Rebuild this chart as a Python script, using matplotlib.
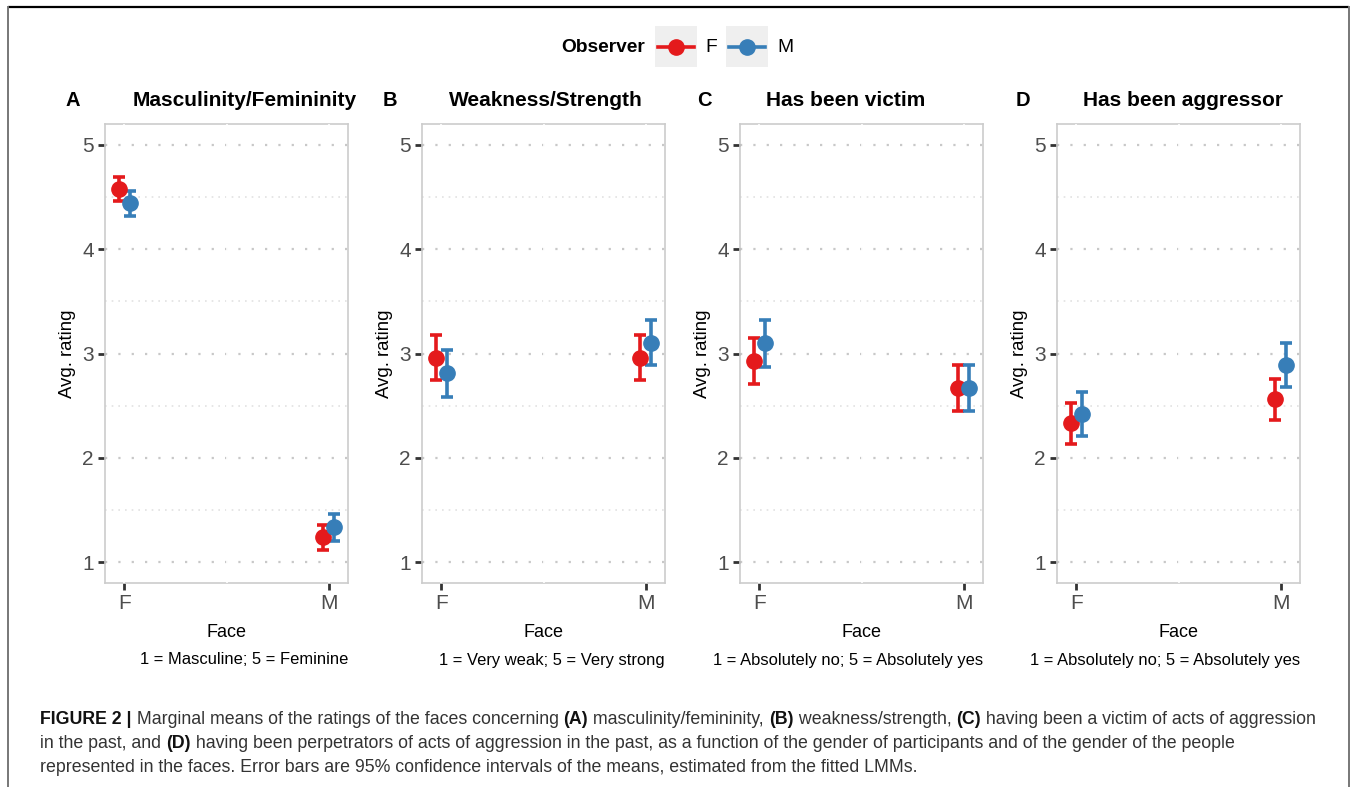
import matplotlib
matplotlib.use("Agg")
import matplotlib.pyplot as plt
from matplotlib.patches import Rectangle
from matplotlib.lines import Line2D

plt.rcParams['font.family'] = ['Liberation Sans', 'DejaVu Sans']

# Face shown and observer gender
faces = ['F', 'M']
observers = ['F', 'M']
colors = {'F': '#E41A1C', 'M': '#377EB8'}

tags = ['A', 'B', 'C', 'D']
titles = ['Masculinity/Femininity', 'Weakness/Strength', 'Has been victim', 'Has been aggressor']
scales = ['1 = Masculine; 5 = Feminine', '1 = Very weak; 5 = Very strong',
          '1 = Absolutely no; 5 = Absolutely yes', '1 = Absolutely no; 5 = Absolutely yes']

# marginal means and 95% CI per panel, per observer, over faces F and M
mean_obs_f = [[4.58, 1.24], [2.96, 2.96], [2.93, 2.67], [2.33, 2.56]]
low_obs_f = [[4.46, 1.115], [2.75, 2.75], [2.71, 2.45], [2.13, 2.36]]
high_obs_f = [[4.69, 1.36], [3.18, 3.18], [3.15, 2.89], [2.53, 2.76]]

mean_obs_m = [[4.44, 1.335], [2.81, 3.10], [3.10, 2.67], [2.42, 2.89]]
low_obs_m = [[4.32, 1.20], [2.58, 2.89], [2.87, 2.45], [2.21, 2.68]]
high_obs_m = [[4.56, 1.46], [3.03, 3.32], [3.32, 2.89], [2.63, 3.10]]

W, H = 1357, 787
fig = plt.figure(figsize=(W / 100, H / 100), dpi=100)

# overlay in pixel units for frame, legend and captions
ov = fig.add_axes([0, 0, 1, 1], zorder=10)
ov.set_xlim(0, W)
ov.set_ylim(H, 0)
ov.axis('off')
ov.patch.set_alpha(0)

panel_left = [105, 422, 740, 1057]
panel_w = 243
panel_top, panel_bot = 124, 583
dodge = 0.026

for i in range(4):
    ax = fig.add_axes([panel_left[i] / W, (H - panel_bot) / H, panel_w / W,
                       (panel_bot - panel_top) / H])
    xs = [1, 2]
    series = [('F', mean_obs_f[i], low_obs_f[i], high_obs_f[i], -dodge),
              ('M', mean_obs_m[i], low_obs_m[i], high_obs_m[i], dodge)]
    for obs, m, lo, hi, off in series:
        x = [v + off for v in xs]
        yerr = [[m[k] - lo[k] for k in range(2)], [hi[k] - m[k] for k in range(2)]]
        ax.errorbar(x, m, yerr=yerr, fmt='o', color=colors[obs], ms=11,
                    elinewidth=2.6, capsize=4, capthick=2.6, zorder=5)
    ax.set_xlim(1 - 0.095, 2 + 0.095)
    ax.set_ylim(0.8, 5.2)
    ax.set_xticks(xs)
    ax.set_xticklabels(faces)
    ax.set_yticks([1, 2, 3, 4, 5])
    ax.set_yticks([1.5, 2.5, 3.5, 4.5], minor=True)
    ax.tick_params(axis='y', which='minor', length=0)
    ax.tick_params(which='major', length=5, width=2, color='#333333',
                   labelsize=15, labelcolor='#4d4d4d', pad=3)
    ax.grid(True, which='major', axis='y', color='#c8c8c8', lw=1.6, ls=(0, (1, 5)))
    ax.grid(True, which='minor', axis='y', color='#e2e2e2', lw=1.2, ls=(0, (1, 3)))
    for xv in [1, 1.5, 2]:
        ax.axvline(xv, color='white', lw=1.2, zorder=3)
    for sp in ax.spines.values():
        sp.set_color('#cccccc')
        sp.set_linewidth(1.2)
    ax.set_axisbelow(True)
    ax.set_ylabel('Avg. rating', fontsize=13.4, color='black')
    ax.yaxis.set_label_coords(-0.12, 0.5)
    ax.set_xlabel('Face', fontsize=13, color='black', labelpad=8)

    # panel tag and title
    tag_x = [73, 390, 704, 1023][i]
    title_x = [245, 546, 846, 1183][i]
    ov.text(tag_x, 101, tags[i], fontsize=14.5, fontweight='bold', ha='center', va='center')
    ov.text(title_x, 101, titles[i], fontsize=15, fontweight='bold', ha='center', va='center')
    ov.text(panel_left[i] + panel_w, 660, scales[i], fontsize=11.9, ha='right', va='center')

# figure frame
ov.plot([8, 1349], [7, 7], color='black', lw=1.6, solid_capstyle='butt')
ov.plot([8, 8], [7, H], color='#777777', lw=1.4)
ov.plot([1349, 1349], [7, H], color='#777777', lw=1.4)

# legend
ov.text(645, 47, 'Observer', fontsize=13.8, fontweight='bold', ha='right', va='center')
for obs, bx, lx in [('F', 655, 705), ('M', 726, 777)]:
    ov.add_patch(Rectangle((bx, 26), 42, 41, facecolor='#efefef', edgecolor='none'))
    ov.add_line(Line2D([bx + 3, bx + 39], [46.5, 46.5], color=colors[obs], lw=2.6))
    ov.plot([bx + 21], [46.5], 'o', color=colors[obs], ms=11)
    ov.text(lx, 47, obs, fontsize=13.8, ha='left', va='center')

# figure caption with bold runs
cap_lines = [
    [('FIGURE 2 |', True), (' Marginal means of the ratings of the faces concerning ', False),
     ('(A)', True), (' masculinity/femininity, ', False), ('(B)', True),
     (' weakness/strength, ', False), ('(C)', True),
     (' having been a victim of acts of aggression', False)],
    [('in the past, and ', False), ('(D)', True),
     (' having been perpetrators of acts of aggression in the past, as a function of the gender of participants and of the gender of the people', False)],
    [('represented in the faces. Error bars are 95% confidence intervals of the means, estimated from the fitted LMMs.', False)],
]
cap_size = 12.8
renderer = fig.canvas.get_renderer()
bar = ov.text(0, 0, '|', fontsize=cap_size)
bar_w = bar.get_window_extent(renderer).width
bar.remove()
for li, runs in enumerate(cap_lines):
    x = 40
    y = 720 + li * 24
    for txt, bold in runs:
        t = ov.text(x, y, txt + '|', fontsize=cap_size,
                    fontweight='bold' if bold else 'normal', ha='left', va='center',
                    color='#111111' if bold else '#333333')
        w = t.get_window_extent(renderer).width - bar_w
        t.set_text(txt)
        x += w

fig.savefig('out.png', dpi=100)
